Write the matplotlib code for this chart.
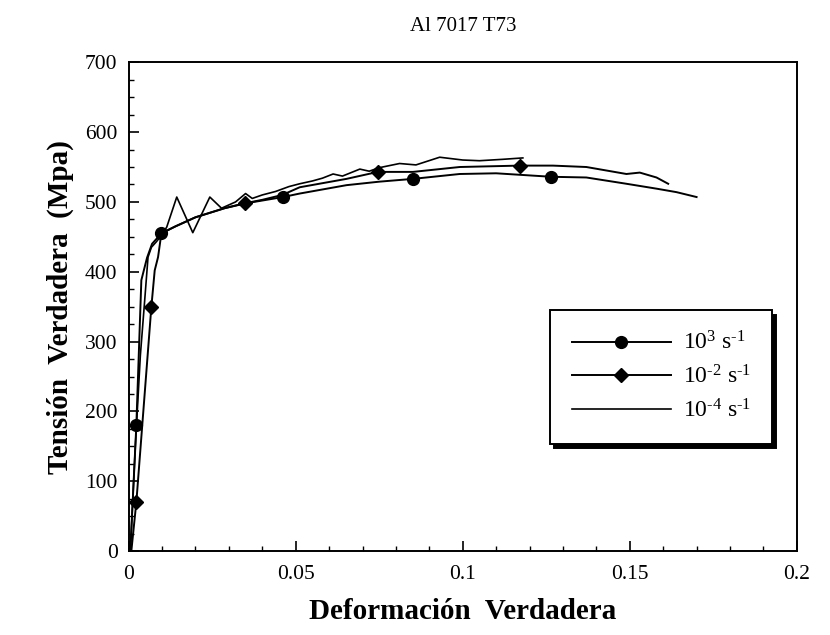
import numpy as np
import matplotlib
matplotlib.use("Agg")
import matplotlib.pyplot as plt
from matplotlib.ticker import MultipleLocator

plt.rcParams['font.family'] = ['Liberation Serif', 'DejaVu Serif']
plt.rcParams['mathtext.fontset'] = 'custom'
plt.rcParams['mathtext.rm'] = 'Liberation Serif'
plt.rcParams['mathtext.it'] = 'Liberation Serif:italic'

# datos
# 10^3 s^-1 (circulos)
x_alta = [0.0005, 0.0023, 0.0038, 0.0055, 0.0070, 0.0098, 0.014, 0.020, 0.0287, 0.035,
          0.040, 0.0462, 0.0512, 0.0652, 0.075, 0.0851, 0.0991, 0.110, 0.1265, 0.137,
          0.149, 0.158, 0.164, 0.170]
y_alta = [0, 180, 388, 420, 440, 455, 465, 478, 491, 498,
          502, 507, 512, 524, 529, 533, 540, 541, 536, 535,
          526, 519, 514, 507]
marcas_alta = [1, 5, 11, 15, 18]

# 10^-2 s^-1 (rombos)
x_media = [0.0008, 0.0023, 0.0068, 0.0078, 0.0088, 0.0098, 0.014, 0.020, 0.0287, 0.0347,
           0.040, 0.046, 0.0512, 0.0652, 0.0746, 0.0851, 0.0991, 0.108, 0.117, 0.127,
           0.137, 0.149, 0.153, 0.158, 0.1615]
y_media = [0, 70, 350, 402, 421, 455, 465, 478, 491, 498,
           503, 510, 521, 533, 543, 543, 550, 551, 552, 552,
           550, 540, 542, 535, 526]
marcas_media = [1, 2, 9, 14, 18]

# 10^-4 s^-1 (sin marcas)
x_baja = [0.0005, 0.002, 0.0035, 0.0048, 0.0058, 0.0068, 0.0083, 0.0098, 0.0114, 0.0144,
          0.0192, 0.0243, 0.0278, 0.032, 0.035, 0.037, 0.040, 0.044, 0.048, 0.0512,
          0.055, 0.058, 0.0612, 0.064, 0.0692, 0.072, 0.075, 0.0811, 0.086, 0.0931,
          0.100, 0.105, 0.112, 0.118]
y_baja = [0, 150, 280, 359, 421, 435, 443, 452, 464, 507,
          456, 507, 491, 500, 512, 505, 510, 515, 522, 526,
          530, 534, 540, 537, 547, 544, 549, 555, 553, 564,
          560, 559, 561, 563]

etiquetas = [r'$10^{3}$ s$^{\text{-}1}$', r'$10^{\text{-}2}$ s$^{\text{-}1}$',
             r'$10^{\text{-}4}$ s$^{\text{-}1}$']

fig = plt.figure(figsize=(8.3, 6.35), dpi=100)
ax = fig.add_axes([0.155, 0.132, 0.805, 0.770])

ax.plot(x_alta, y_alta, color='black', lw=1.4, marker='o', markersize=8.5,
        markevery=marcas_alta, label=etiquetas[0])
ax.plot(x_media, y_media, color='black', lw=1.4, marker='D', markersize=7.5,
        markevery=marcas_media, label=etiquetas[1])
ax.plot(x_baja, y_baja, color='black', lw=1.2, label=etiquetas[2])

ax.set_xlim(0, 0.2)
ax.set_ylim(0, 700)
ax.xaxis.set_major_locator(MultipleLocator(0.05))
ax.xaxis.set_minor_locator(MultipleLocator(0.01))
ax.yaxis.set_major_locator(MultipleLocator(100))
ax.yaxis.set_minor_locator(MultipleLocator(25))
ax.set_xticks([0, 0.05, 0.1, 0.15, 0.2])
ax.set_xticklabels(['0', '0.05', '0.1', '0.15', '0.2'])
ax.tick_params(which='both', direction='in', top=False, right=False, labelsize=15.5)
ax.tick_params(which='major', length=7, width=1.2)
ax.tick_params(which='minor', length=3.5, width=1)
ax.tick_params(axis='x', pad=10)
ax.tick_params(axis='y', pad=8)
for s in ax.spines.values():
    s.set_linewidth(1.4)

ax.set_xlabel('Deformación  Verdadera', fontsize=21, fontweight='bold', labelpad=10)
ax.set_ylabel('Tensión  Verdadera  (Mpa)', fontsize=21, fontweight='bold', labelpad=8)
fig.text(0.558, 0.958, 'Al 7017 T73', ha='center', va='center', fontsize=15)

leg = ax.legend(loc='center', bbox_to_anchor=(0.797, 0.356),
                fontsize=17, handlelength=4.2, handletextpad=0.5, frameon=True,
                fancybox=False, edgecolor='black', framealpha=1,
                shadow={'color': 'black', 'alpha': 1, 'ox': 3, 'oy': -3},
                borderpad=0.9, labelspacing=0.45, borderaxespad=0)
leg.get_frame().set_linewidth(1.4)

fig.savefig('out.png', dpi=100)
